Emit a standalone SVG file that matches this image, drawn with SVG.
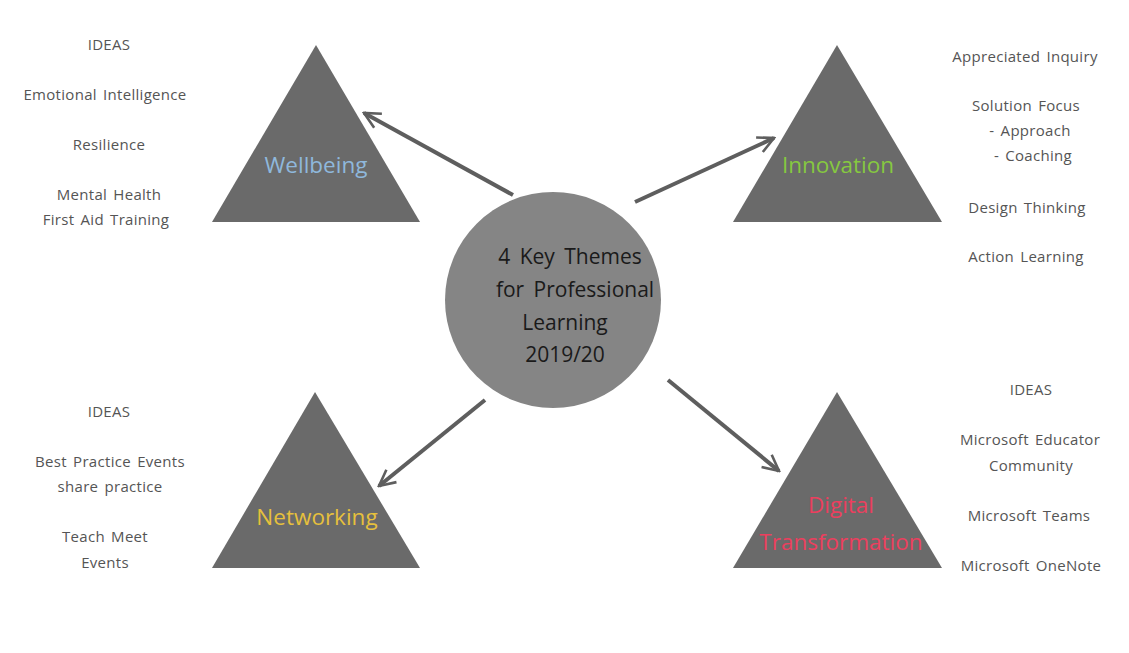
<svg xmlns="http://www.w3.org/2000/svg" width="1129" height="653" viewBox="0 0 1129 653">
<style>
.tri{fill:#6a6a6a}
.side{font-family:"Open Sans","Liberation Sans",sans-serif;font-size:15px;letter-spacing:0.3px;word-spacing:2px;fill:#555;text-anchor:middle}
.lab{font-family:"Open Sans","Liberation Sans",sans-serif;font-size:22.5px;text-anchor:middle}
.ctr{font-family:"Open Sans","Liberation Sans",sans-serif;font-size:21px;word-spacing:4px;fill:#1a1a1a;text-anchor:middle}
.con{stroke:#5e5e5e;stroke-width:4;fill:none;marker-end:url(#ah)}
</style>
<defs>
<marker id="ah" viewBox="0 0 10 10" refX="9" refY="5" markerWidth="5" markerHeight="5" orient="auto" markerUnits="strokeWidth">
<path d="M1,1 L9,5 L1,9" fill="none" stroke="#5e5e5e" stroke-width="1.3"/>
</marker>
</defs>
<rect width="1129" height="653" fill="#fff"/>
<g id="wellbeing">
<polygon class="tri" points="316,45 420,222 212,222"/>
<text class="lab" x="316" y="173" fill="#8fb8dc">Wellbeing</text>
</g>
<g id="innovation">
<polygon class="tri" points="837,45 942,222 733,222"/>
<text class="lab" x="838" y="173" fill="#86c840">Innovation</text>
</g>
<g id="networking">
<polygon class="tri" points="315,392 420,568 212,568"/>
<text class="lab" x="317" y="525" fill="#e6c03c">Networking</text>
</g>
<g id="digital">
<polygon class="tri" points="837,392 942,568 733,568"/>
<text class="lab" x="841" y="513" fill="#ec3f5e">Digital</text>
<text class="lab" x="841" y="550" fill="#ec3f5e">Transformation</text>
</g>
<g id="connectors">
<line class="con" x1="513" y1="195" x2="364" y2="113"/>
<line class="con" x1="635" y1="202" x2="774" y2="138"/>
<line class="con" x1="485" y1="400" x2="379" y2="486"/>
<line class="con" x1="668" y1="380" x2="779" y2="471"/>
</g>
<g id="center">
<circle cx="553" cy="300" r="108" fill="#858585"/>
<text class="ctr" x="570" y="264">4 Key Themes</text>
<text class="ctr" x="575" y="297">for Professional</text>
<text class="ctr" x="565" y="330">Learning</text>
<text class="ctr" x="565" y="362">2019/20</text>
</g>
<g id="ideas-wellbeing">
<text class="side" x="109" y="50">IDEAS</text>
<text class="side" x="105" y="100">Emotional Intelligence</text>
<text class="side" x="109" y="150">Resilience</text>
<text class="side" x="109" y="200">Mental Health</text>
<text class="side" x="106" y="225">First Aid Training</text>
</g>
<g id="ideas-innovation">
<text class="side" x="1025" y="62">Appreciated Inquiry</text>
<text class="side" x="1026" y="111">Solution Focus</text>
<text class="side" x="1030" y="136">- Approach</text>
<text class="side" x="1033" y="161">- Coaching</text>
<text class="side" x="1027" y="213">Design Thinking</text>
<text class="side" x="1026" y="262">Action Learning</text>
</g>
<g id="ideas-networking">
<text class="side" x="109" y="417">IDEAS</text>
<text class="side" x="110" y="467">Best Practice Events</text>
<text class="side" x="110" y="492">share practice</text>
<text class="side" x="105" y="542">Teach Meet</text>
<text class="side" x="105" y="568">Events</text>
</g>
<g id="ideas-digital">
<text class="side" x="1031" y="395">IDEAS</text>
<text class="side" x="1030" y="445">Microsoft Educator</text>
<text class="side" x="1031" y="471">Community</text>
<text class="side" x="1029" y="521">Microsoft Teams</text>
<text class="side" x="1031" y="571">Microsoft OneNote</text>
</g>
</svg>
